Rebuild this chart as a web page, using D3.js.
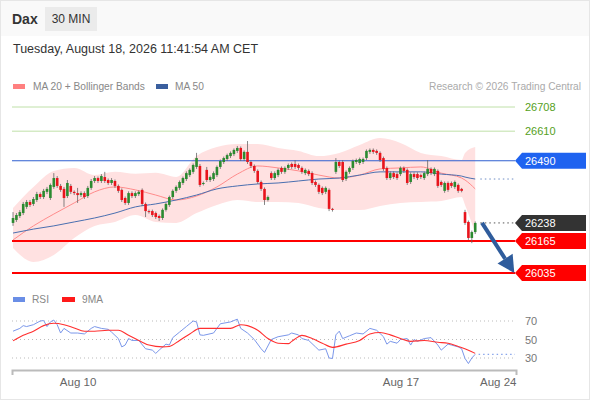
<!DOCTYPE html>
<html>
<head>
<meta charset="utf-8">
<script src="https://cdn.jsdelivr.net/npm/d3@7"></script>
<style>
  body { margin: 0; background: #fff; }
  svg { font-family: "Liberation Sans", Arial, sans-serif; display: block; }
</style>
</head>
<body>
<div id="chart"></div>
<script>
// ---- data ----
const title = "Dax";
const period = "30 MIN";
const stamp = "Tuesday, August 18, 2026 11:41:54 AM CET";

// 30 min candles [open, high, low, close], 19 bars a day, Aug 7 -> Aug 18
const ohlc = [
  [26238,26282,26226,26258],[26250,26278,26242,26270],[26266,26290,26258,26282],[26278,26323,26270,26315],
  [26303,26331,26295,26323],[26323,26331,26303,26311],[26315,26343,26307,26335],[26331,26364,26323,26355],
  [26355,26362,26335,26343],[26343,26376,26335,26368],[26364,26384,26355,26376],[26339,26398,26331,26392],
  [26384,26440,26376,26420],[26420,26428,26380,26388],[26388,26396,26364,26372],[26376,26384,26303,26339],
  [26347,26412,26339,26400],[26388,26396,26355,26364],[26364,26370,26351,26359],
  // Aug 10
  [26359,26380,26319,26351],[26351,26366,26343,26359],[26359,26366,26335,26343],[26347,26388,26339,26380],
  [26380,26416,26372,26408],[26408,26428,26400,26420],[26420,26426,26400,26408],[26408,26436,26400,26428],
  [26424,26445,26400,26408],[26412,26418,26392,26400],[26400,26420,26392,26412],[26408,26414,26380,26388],
  [26388,26394,26360,26368],[26372,26378,26323,26331],[26339,26345,26311,26319],[26319,26366,26311,26359],
  [26359,26366,26339,26347],[26347,26366,26339,26359],[26355,26370,26347,26364],
  // Aug 11
  [26372,26378,26307,26315],[26315,26321,26262,26286],[26286,26292,26276,26282],[26286,26292,26262,26270],
  [26278,26284,26254,26262],[26266,26272,26246,26258],[26258,26297,26250,26291],[26291,26321,26284,26315],
  [26311,26349,26303,26343],[26343,26374,26335,26368],[26368,26390,26360,26384],[26380,26410,26372,26404],
  [26400,26426,26392,26420],[26416,26447,26408,26440],[26432,26459,26424,26453],[26445,26479,26437,26473],
  [26465,26522,26457,26501],[26469,26477,26384,26392],[26396,26406,26390,26400],
  // Aug 12
  [26453,26465,26404,26412],[26412,26430,26404,26424],[26416,26447,26408,26440],[26432,26471,26424,26465],
  [26465,26495,26457,26489],[26485,26507,26477,26501],[26497,26519,26489,26513],[26509,26528,26501,26522],
  [26517,26540,26509,26534],[26530,26550,26522,26542],[26542,26548,26489,26497],[26497,26532,26489,26526],
  [26526,26570,26477,26485],[26485,26491,26461,26469],[26469,26475,26441,26449],[26449,26455,26396,26404],
  [26404,26410,26368,26376],[26376,26382,26311,26331],[26331,26349,26325,26343],
  // Aug 13
  [26440,26447,26412,26420],[26420,26447,26412,26440],[26432,26459,26424,26453],[26461,26467,26437,26445],
  [26445,26467,26437,26461],[26461,26479,26453,26473],[26477,26483,26457,26465],[26477,26493,26457,26465],
  [26473,26479,26453,26461],[26461,26467,26437,26445],[26440,26459,26432,26453],[26449,26455,26428,26436],
  [26440,26447,26392,26400],[26404,26410,26384,26392],[26392,26398,26355,26364],[26380,26386,26351,26359],
  [26364,26386,26355,26380],[26372,26378,26286,26295],[26295,26299,26284,26291],
  // Aug 14
  [26445,26501,26437,26485],[26485,26491,26461,26469],[26485,26493,26404,26412],[26416,26451,26408,26445],
  [26445,26467,26437,26461],[26461,26495,26453,26489],[26485,26499,26477,26493],[26481,26503,26473,26497],
  [26485,26503,26477,26497],[26501,26536,26493,26530],[26526,26540,26518,26534],[26534,26540,26518,26526],
  [26530,26536,26514,26522],[26522,26528,26485,26493],[26501,26507,26449,26457],[26461,26467,26412,26420],
  [26420,26447,26412,26440],[26440,26447,26416,26424],[26436,26443,26412,26420],
  // Aug 17
  [26436,26467,26428,26461],[26461,26467,26441,26449],[26453,26459,26392,26400],[26404,26443,26396,26436],
  [26436,26443,26416,26424],[26436,26443,26412,26420],[26432,26438,26416,26424],[26420,26447,26412,26440],
  [26436,26493,26428,26457],[26457,26463,26432,26440],[26436,26463,26428,26457],[26449,26455,26380,26388],
  [26404,26410,26384,26392],[26368,26406,26360,26400],[26400,26406,26364,26372],[26400,26406,26380,26388],
  [26384,26410,26376,26404],[26392,26398,26360,26368],[26376,26380,26362,26368],
  // Aug 18
  [26282,26291,26230,26238],[26242,26248,26169,26177],[26177,26207,26156,26201],[26201,26244,26193,26238]
];

// indicator lines, sampled at bar indices
const bandIdx = [0,6,12,18,24,30,36,42,48,54,60,66,72,78,84,90,96,102,108,114,120,126,132,133,136];
const upperBand = [26299,26384,26449,26461,26432,26445,26437,26441,26424,26509,26546,26558,26558,26542,26530,26509,26522,26554,26582,26562,26522,26509,26493,26522,26546];
const lowerBand = [26136,26080,26108,26177,26226,26242,26270,26242,26238,26278,26311,26331,26323,26323,26319,26299,26290,26290,26307,26319,26323,26327,26343,26311,26197];
const ma20 = [26169,26226,26274,26319,26364,26384,26372,26351,26331,26347,26384,26436,26469,26461,26449,26432,26420,26432,26457,26461,26465,26440,26420,26412,26376];
const ma50 = [26197,26213,26226,26242,26258,26278,26303,26315,26331,26351,26376,26388,26396,26400,26408,26416,26420,26432,26445,26445,26445,26436,26428,26424,26416];

// key levels
const levels = [26708, 26610, 26490, 26165, 26035];
const levelKinds = ["resist", "resist", "pivot", "support", "support"];
const lastPrice = 26238;

// forecast arrow [bar index, price]
const arrowFrom = [138, 26238];
const arrowTo = [147.5, 26035];

// RSI panel
const rsiIdx = [0,2,3,4,6,8,9,10,11,12,13,14,15,17,19,21,23,24,26,28,29,31,32,33,34,35,37,39,41,42,43,45,46,47,49,51,53,54,55,56,59,60,61,64,66,67,69,71,73,74,76,78,81,82,84,85,87,89,90,92,93,94,95,96,97,99,101,103,105,107,109,110,111,113,114,116,117,118,119,121,123,125,126,128,129,131,132,133,134,135,136];
const rsiVal = [59,62,65,64,66,70,70.5,64,69,71,66,57,62,57,57,56,62,64,62,61,58,51,42,44,51,49,49,40,38.5,35,38.5,45,44,52,58,64,70,69,55,54.5,57,62,67,69,72,62,57,50,40,36,50,53,55,57,55,51,49,42,38.5,40,30,29.5,55,59,51,54,57,56,62,60,53,45,48,46,50,51,44,50,48,51,52,44,38.5,45,44,42,40,29.5,24,30,34];
const rsiMaIdx = [0,3,6,9,12,15,18,21,24,28,31,34,37,40,44,46,49,52,55,59,64,67,69,72,75,78,81,82,84,85,88,91,94,98,102,105,108,111,114,117,121,125,128,131,134,136];
const rsiMaVal = [48.5,54.5,59,65,67.5,66,62.5,59,59,60,60,54.5,49,44,42,42.5,49,56,62,62,62,66,65,60,51,46,45.5,48,53,54.5,51,46,41.5,45,49,56,57.5,55,51,48,49,47,46,42.5,38.5,35];
const rsiTicks = [70, 50, 30];

// x axis
const xTickIdx = [19, 114, 148];
const xTickLabels = ["Aug 10", "Aug 17", "Aug 24"];

// ---- drawing ----
const W = 590, H = 400;
const plotRight = 515;

const svg = d3.select("#chart").append("svg")
  .attr("width", W).attr("height", H);

// card + header band
svg.append("rect").attr("x", 0.5).attr("y", 0.5).attr("width", W - 1).attr("height", H - 1)
  .attr("fill", "#fff").attr("stroke", "#e6e6e6");
svg.append("rect").attr("x", 1).attr("y", 1).attr("width", W - 2).attr("height", 35)
  .attr("fill", "#f9f9f9");
svg.append("text").attr("x", 12).attr("y", 24).attr("font-size", 14).attr("font-weight", "bold")
  .attr("fill", "#333").text(title);
svg.append("rect").attr("x", 45).attr("y", 7).attr("width", 52).attr("height", 24)
  .attr("fill", "#ebebeb");
svg.append("text").attr("x", 71).attr("y", 23).attr("font-size", 12).attr("text-anchor", "middle")
  .attr("fill", "#333").text(period);
svg.append("text").attr("x", 13).attr("y", 53).attr("font-size", 12.5)
  .attr("fill", "#333").text(stamp);

// legend
svg.append("rect").attr("x", 13).attr("y", 84).attr("width", 12).attr("height", 5).attr("fill", "#ff8080");
svg.append("text").attr("x", 33).attr("y", 90).attr("font-size", 10.2).attr("fill", "#888").text("MA 20 + Bollinger Bands");
svg.append("rect").attr("x", 156).attr("y", 84).attr("width", 12).attr("height", 5).attr("fill", "#3a5f9e");
svg.append("text").attr("x", 175).attr("y", 90).attr("font-size", 10.2).attr("fill", "#888").text("MA 50");
svg.append("text").attr("x", 581).attr("y", 90).attr("font-size", 10.2).attr("text-anchor", "end")
  .attr("fill", "#aaa").text("Research \u00a9 2026 Trading Central");

// scales
const x = d3.scaleLinear().domain([-0.3, 148]).range([12, 516]);
const y = d3.scaleLinear().domain([26035, 26708]).range([273, 107]);
const yr = d3.scaleLinear().domain([30, 70]).range([358, 321]);

const pts = (idx, vals) => idx.map((d, i) => [d, vals[i]]);

// bollinger band
const band = bandIdx.map((d, i) => ({ i: d, hi: upperBand[i], lo: lowerBand[i] }));
svg.append("path").datum(band)
  .attr("fill", "#ffe1e1")
  .attr("d", d3.area().curve(d3.curveMonotoneX)
    .x(d => x(d.i)).y0(d => y(d.lo)).y1(d => y(d.hi)));

// levels
const levelStyle = {
  resist: { line: "#bfe0a8", w: 1, text: "#55a022", tag: null },
  pivot: { line: "#2f5fd0", w: 1.2, text: "#fff", tag: "#1f63f0" },
  support: { line: "#ff0000", w: 2, text: "#fff", tag: "#ff0000" }
};
levels.forEach((v, i) => {
  const s = levelStyle[levelKinds[i]];
  svg.append("line").attr("x1", 12).attr("x2", plotRight)
    .attr("y1", y(v)).attr("y2", y(v))
    .attr("stroke", s.line).attr("stroke-width", s.w);
});

// moving averages
const line = d3.line().curve(d3.curveMonotoneX).x(d => x(d[0])).y(d => y(d[1]));
svg.append("path").datum(pts(bandIdx, ma20))
  .attr("fill", "none").attr("stroke", "#ff8c8c").attr("stroke-width", 1).attr("d", line);
svg.append("path").datum(pts(bandIdx, ma50))
  .attr("fill", "none").attr("stroke", "#4a6fb0").attr("stroke-width", 1).attr("d", line);

// dotted extensions
svg.append("line").attr("x1", x(137.5)).attr("x2", plotRight)
  .attr("y1", y(ma50[ma50.length - 1])).attr("y2", y(ma50[ma50.length - 1]))
  .attr("stroke", "#6d8cc4").attr("stroke-width", 1).attr("stroke-dasharray", "1.5,3");
svg.append("line").attr("x1", x(137.5)).attr("x2", plotRight)
  .attr("y1", y(lastPrice)).attr("y2", y(lastPrice))
  .attr("stroke", "#555").attr("stroke-width", 1).attr("stroke-dasharray", "1.5,3");

// candles
const bw = 2.6;
const candle = svg.append("g").selectAll("g").data(ohlc).join("g");
candle.append("line")
  .attr("x1", (d, i) => x(i)).attr("x2", (d, i) => x(i))
  .attr("y1", d => y(d[1])).attr("y2", d => y(d[2]))
  .attr("stroke", "#666").attr("stroke-width", 0.8);
candle.append("rect")
  .attr("x", (d, i) => x(i) - bw / 2)
  .attr("width", bw)
  .attr("y", d => y(Math.max(d[0], d[3])))
  .attr("height", d => Math.max(1, Math.abs(y(d[0]) - y(d[3]))))
  .attr("fill", d => d[3] >= d[0] ? "#2b8a30" : "#e8141c");

// arrow
const ax1 = x(arrowFrom[0]), ay1 = y(arrowFrom[1]);
const ax2 = x(arrowTo[0]), ay2 = y(arrowTo[1]);
const ang = Math.atan2(ay2 - ay1, ax2 - ax1);
const headL = 17, headW = 9;
const bx = ax2 - headL * Math.cos(ang), by = ay2 - headL * Math.sin(ang);
svg.append("line").attr("x1", ax1).attr("y1", ay1).attr("x2", bx).attr("y2", by)
  .attr("stroke", "#2f5c9c").attr("stroke-width", 4);
svg.append("path")
  .attr("d", `M${ax2},${ay2} L${bx + headW * Math.sin(ang)},${by - headW * Math.cos(ang)} L${bx - headW * Math.sin(ang)},${by + headW * Math.cos(ang)} Z`)
  .attr("fill", "#2f5c9c");

// level tags
function tag(v, fill, color) {
  const yy = y(v);
  if (fill) {
    svg.append("path")
      .attr("d", `M${plotRight},${yy} L${plotRight + 7},${yy - 8} L586,${yy - 8} L586,${yy + 8} L${plotRight + 7},${yy + 8} Z`)
      .attr("fill", fill);
  }
  svg.append("text").attr("x", 525).attr("y", yy + 4).attr("font-size", 11)
    .attr("fill", color).text(v);
}
levels.forEach((v, i) => {
  const s = levelStyle[levelKinds[i]];
  tag(v, s.tag, s.text);
});
tag(lastPrice, "#333", "#fff");

// RSI legend
svg.append("rect").attr("x", 13).attr("y", 297).attr("width", 12).attr("height", 5).attr("fill", "#6a8ee6");
svg.append("text").attr("x", 32).attr("y", 303).attr("font-size", 10.2).attr("fill", "#888").text("RSI");
svg.append("rect").attr("x", 62).attr("y", 297).attr("width", 13).attr("height", 5).attr("fill", "#ff1a1a");
svg.append("text").attr("x", 82).attr("y", 303).attr("font-size", 10.2).attr("fill", "#888").text("9MA");

// RSI grid
rsiTicks.forEach(t => {
  svg.append("line").attr("x1", 12).attr("x2", plotRight).attr("y1", yr(t)).attr("y2", yr(t))
    .attr("stroke", "#bbb").attr("stroke-dasharray", "1,3");
  svg.append("text").attr("x", 525).attr("y", yr(t) + 4).attr("font-size", 11)
    .attr("fill", "#777").text(t);
});

const rline = d3.line().x(d => x(d[0])).y(d => yr(d[1]));
svg.append("path").datum(pts(rsiIdx, rsiVal))
  .attr("fill", "none").attr("stroke", "#7b97ea").attr("stroke-width", 1).attr("d", rline);
svg.append("path").datum(pts(rsiMaIdx, rsiMaVal))
  .attr("fill", "none").attr("stroke", "#ff3030").attr("stroke-width", 1.1)
  .attr("d", rline.curve(d3.curveMonotoneX));
svg.append("line").attr("x1", x(137)).attr("x2", plotRight)
  .attr("y1", yr(rsiVal[rsiVal.length - 1])).attr("y2", yr(rsiVal[rsiVal.length - 1]))
  .attr("stroke", "#6a8ee6").attr("stroke-dasharray", "1.5,3");

// x axis
const xAxis = svg.append("g")
  .attr("transform", "translate(0,370)")
  .call(d3.axisBottom(x).tickValues(xTickIdx)
    .tickFormat((d, i) => xTickLabels[i])
    .tickSizeInner(0).tickSizeOuter(5).tickPadding(8));
xAxis.select(".domain").attr("stroke", "#bbb").attr("stroke-width", 2);
xAxis.selectAll("text").attr("font-size", 11.5).attr("fill", "#666")
  .attr("font-family", "Liberation Sans, Arial, sans-serif");
xAxis.selectAll(".tick").filter((d, i) => i === xTickIdx.length - 1)
  .select("text").attr("text-anchor", "end");
</script>
</body>
</html>
